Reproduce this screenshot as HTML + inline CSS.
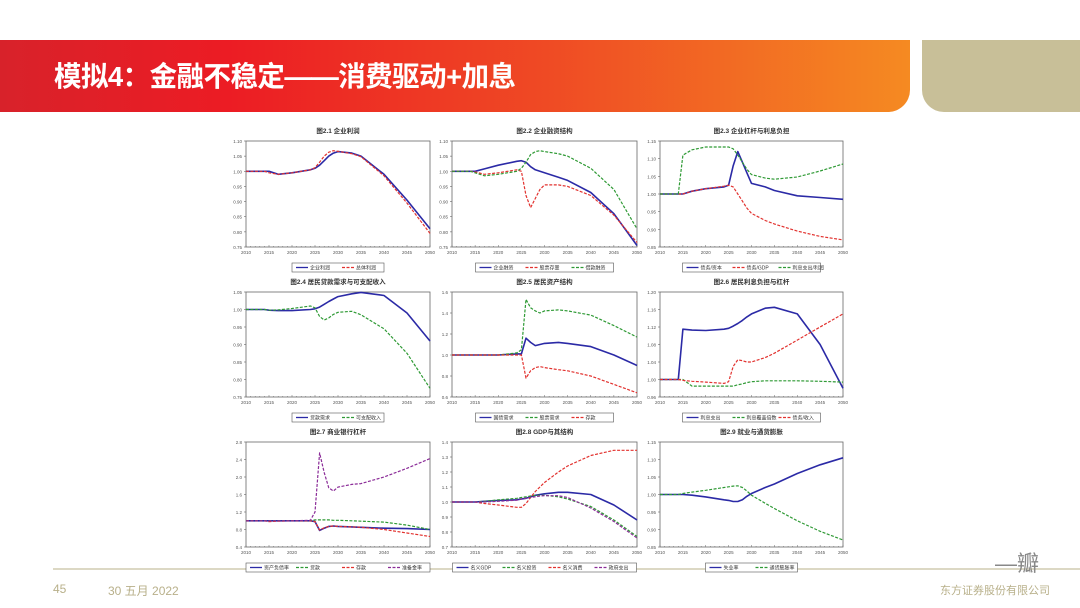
<!DOCTYPE html>
<html><head><meta charset="utf-8">
<style>
html,body{margin:0;padding:0;background:#fff;}
body{width:1080px;height:608px;position:relative;overflow:hidden;font-family:"Liberation Sans","Noto Sans CJK SC",sans-serif;}
#hdr{position:absolute;left:0;top:40px;width:910px;height:72px;background:linear-gradient(90deg,#d8222a 0%,#ec1c24 25%,#ef4a24 60%,#f58a22 100%);border-bottom-right-radius:22px;}
#beige{position:absolute;left:922px;top:40px;width:158px;height:72px;background:#c8bf98;border-bottom-left-radius:22px;}
#title{position:absolute;left:54px;top:59px;color:#fff;font-size:28px;font-weight:bold;font-family:"Liberation Sans","Noto Sans CJK SC",sans-serif;line-height:36px;white-space:nowrap;transform:scaleX(0.98);transform-origin:left center;letter-spacing:-0.5px;}
#fline{position:absolute;left:53px;top:568px;width:1027px;height:2px;background:#dcd8c4;}
.ft{position:absolute;color:#b8b08a;font-size:12px;}
svg{position:absolute;left:0;top:0;}
</style></head><body>
<div id="hdr"></div>
<div id="beige"></div>
<div id="title">模拟4：金融不稳定——消费驱动+加息</div>
<div id="fline"></div>
<div class="ft" style="left:53px;top:582px">45</div>
<div class="ft" style="left:108px;top:582px">30 五月 2022</div>
<div class="ft" style="left:940px;top:582px;font-size:11px">东方证券股份有限公司</div>
<div class="ft" style="left:995px;top:546px;font-size:22px;color:#888">—瓣</div>
<svg id="s" width="1080" height="608" xmlns="http://www.w3.org/2000/svg"></svg>
<script>
const years=[2010,2014,2015,2017,2020,2024,2025,2026,2027,2028,2029,2030,2033,2035,2040,2045,2050];
const xTicks=[2010,2015,2020,2025,2030,2035,2040,2045,2050];
const c1Title="图2.1 企业利润";
const c1Ticks=[0.75,0.80,0.85,0.90,0.95,1.00,1.05,1.10];
const c1Labels=["企业利润","总体利润"];
const c1A=[1.0,1.0,1.0,0.99,0.995,1.005,1.01,1.02,1.035,1.05,1.06,1.065,1.06,1.05,0.99,0.905,0.81];
const c1B=[1.0,1.0,0.995,0.99,0.995,1.005,1.012,1.03,1.05,1.063,1.068,1.066,1.058,1.048,0.985,0.895,0.795];
const c2Title="图2.2 企业融资结构";
const c2Ticks=[0.75,0.80,0.85,0.90,0.95,1.00,1.05,1.10];
const c2Labels=["企业融资","股票存量","借款融资"];
const c2A=[1.0,1.0,1.0,1.008,1.02,1.033,1.035,1.03,1.015,1.005,1.0,0.995,0.98,0.97,0.93,0.86,0.755];
const c2B=[1.0,1.0,0.998,0.99,0.995,1.005,1.0,0.92,0.88,0.91,0.94,0.955,0.955,0.95,0.92,0.855,0.765];
const c2C=[1.0,1.0,0.995,0.985,0.99,1.0,1.01,1.03,1.055,1.065,1.068,1.065,1.058,1.05,1.01,0.94,0.81];
const c3Title="图2.3 企业杠杆与利息负担";
const c3Ticks=[0.85,0.90,0.95,1.00,1.05,1.10,1.15];
const c3Labels=["债务/资本","债务/GDP","利息支出/利润"];
const c3A=[1.0,1.0,1.0,1.008,1.015,1.02,1.025,1.08,1.12,1.09,1.06,1.03,1.02,1.01,0.995,0.99,0.985];
const c3B=[1.0,1.0,1.0,1.008,1.015,1.022,1.025,1.02,1.0,0.98,0.96,0.945,0.925,0.915,0.895,0.88,0.87];
const c3C=[1.0,1.0,1.11,1.125,1.133,1.133,1.133,1.128,1.11,1.09,1.07,1.055,1.045,1.042,1.048,1.065,1.085];
const c4Title="图2.4 居民贷款需求与可支配收入";
const c4Ticks=[0.75,0.80,0.85,0.90,0.95,1.00,1.05];
const c4Labels=["贷款需求","可支配收入"];
const c4A=[1.0,1.0,0.998,0.997,0.997,1.0,1.002,1.007,1.015,1.023,1.03,1.037,1.045,1.049,1.04,0.99,0.91];
const c4B=[1.0,1.0,0.998,0.999,1.003,1.01,1.005,0.98,0.97,0.976,0.986,0.992,0.995,0.985,0.945,0.875,0.775];
const c5Title="图2.5 居民资产结构";
const c5Ticks=[0.6,0.8,1.0,1.2,1.4,1.6];
const c5Labels=["国债需求","股票需求","存款"];
const c5A=[1.0,1.0,1.0,1.0,1.0,1.01,1.01,1.16,1.12,1.09,1.1,1.11,1.12,1.11,1.08,1.0,0.9];
const c5B=[1.0,1.0,1.0,1.0,1.0,1.02,1.05,1.53,1.45,1.42,1.40,1.42,1.43,1.42,1.38,1.28,1.17];
const c5C=[1.0,1.0,1.0,1.0,1.0,1.0,1.0,0.78,0.85,0.88,0.89,0.88,0.86,0.85,0.8,0.72,0.64];
const c6Title="图2.6 居民利息负担与杠杆";
const c6Ticks=[0.96,1.00,1.04,1.08,1.12,1.16,1.20];
const c6Labels=["利息支出","利息覆盖倍数","债务/收入"];
const c6A=[1.0,1.0,1.115,1.113,1.112,1.115,1.117,1.122,1.128,1.135,1.143,1.15,1.163,1.165,1.15,1.08,0.98];
const c6B=[1.0,1.0,1.0,0.985,0.985,0.985,0.985,0.985,0.988,0.99,0.993,0.995,0.997,0.997,0.997,0.996,0.994];
const c6C=[1.0,1.0,0.998,0.996,0.994,0.991,0.995,1.03,1.045,1.043,1.04,1.04,1.05,1.06,1.09,1.12,1.15];
const c7Title="图2.7 商业银行杠杆";
const c7Ticks=[0.4,0.8,1.2,1.6,2.0,2.4,2.8];
const c7Labels=["资产负债率","贷款","存款","准备金率"];
const c7A=[1.0,1.0,1.0,1.0,1.0,1.0,0.98,0.78,0.83,0.87,0.88,0.87,0.86,0.85,0.83,0.82,0.80];
const c7B=[1.0,1.0,1.0,1.0,1.0,1.0,1.02,1.02,1.02,1.02,1.01,1.01,1.0,0.99,0.97,0.9,0.8];
const c7C=[1.0,1.0,0.98,0.99,1.0,1.0,0.98,0.79,0.84,0.87,0.88,0.87,0.86,0.85,0.8,0.72,0.64];
const c7D=[1.0,1.0,1.0,1.0,1.0,1.01,1.2,2.55,2.1,1.75,1.68,1.77,1.83,1.85,2.0,2.2,2.42];
const c8Title="图2.8 GDP与其结构";
const c8Ticks=[0.7,0.8,0.9,1.0,1.1,1.2,1.3,1.4];
const c8Labels=["名义GDP","名义投资","名义消费","政府支出"];
const c8A=[1.0,1.0,1.0,1.005,1.01,1.015,1.02,1.025,1.035,1.045,1.05,1.055,1.065,1.065,1.05,0.98,0.88];
const c8B=[1.0,1.0,1.0,1.005,1.015,1.025,1.03,1.035,1.04,1.045,1.045,1.045,1.035,1.02,0.97,0.88,0.77];
const c8C=[1.0,1.0,1.0,0.99,0.98,0.965,0.965,0.99,1.03,1.07,1.1,1.13,1.2,1.24,1.31,1.345,1.345];
const c8D=[1.0,1.0,1.0,1.0,1.005,1.012,1.02,1.025,1.03,1.035,1.04,1.042,1.042,1.03,0.96,0.87,0.76];
const c9Title="图2.9 就业与通货膨胀";
const c9Ticks=[0.85,0.90,0.95,1.00,1.05,1.10,1.15];
const c9Labels=["失业率","通货膨胀率"];
const c9A=[1.0,1.0,1.0,0.998,0.993,0.985,0.983,0.98,0.98,0.985,0.995,1.003,1.02,1.03,1.06,1.085,1.105];
const c9B=[1.0,1.0,1.003,1.007,1.012,1.02,1.022,1.024,1.025,1.02,1.01,0.998,0.975,0.96,0.925,0.895,0.87];

const BLUE="#2b2aa6",RED="#e2322f",GREEN="#2f9a35",PURPLE="#8b2c98";
const charts=[
 {t:c1Title,ticks:c1Ticks,dec:2,labels:c1Labels,series:[[c1A,BLUE,0],[c1B,RED,1]]},
 {t:c2Title,ticks:c2Ticks,dec:2,labels:c2Labels,series:[[c2A,BLUE,0],[c2B,RED,1],[c2C,GREEN,1]]},
 {t:c3Title,ticks:c3Ticks,dec:2,labels:c3Labels,series:[[c3A,BLUE,0],[c3B,RED,1],[c3C,GREEN,1]]},
 {t:c4Title,ticks:c4Ticks,dec:2,labels:c4Labels,series:[[c4A,BLUE,0],[c4B,GREEN,1]]},
 {t:c5Title,ticks:c5Ticks,dec:1,labels:c5Labels,series:[[c5A,BLUE,0],[c5B,GREEN,1],[c5C,RED,1]]},
 {t:c6Title,ticks:c6Ticks,dec:2,labels:c6Labels,series:[[c6A,BLUE,0],[c6B,GREEN,1],[c6C,RED,1]]},
 {t:c7Title,ticks:c7Ticks,dec:1,labels:c7Labels,series:[[c7A,BLUE,0],[c7B,GREEN,1],[c7C,RED,1],[c7D,PURPLE,1]]},
 {t:c8Title,ticks:c8Ticks,dec:1,labels:c8Labels,series:[[c8A,BLUE,0],[c8B,GREEN,1],[c8C,RED,1],[c8D,PURPLE,1]]},
 {t:c9Title,ticks:c9Ticks,dec:2,labels:c9Labels,series:[[c9A,BLUE,0],[c9B,GREEN,1]]}
];
const colX=[[246,430],[452,637],[660,843]];
const rowY=[[141,247],[292,397],[442,547]];
const NS="http://www.w3.org/2000/svg";
const svg=document.getElementById('s');
function mk(tag,attrs,parent){const e=document.createElementNS(NS,tag);for(const k in attrs)e.setAttribute(k,attrs[k]);(parent||svg).appendChild(e);return e;}
charts.forEach((c,i)=>{
 const [x0,x1]=colX[i%3],[y0,y1]=rowY[Math.floor(i/3)];
 const g=mk('g',{});
 
 
 const ymin=c.ticks[0],ymax=c.ticks[c.ticks.length-1];
 const X=v=>x0+(v-2010)/40*(x1-x0);
 const Y=v=>y1-(v-ymin)/(ymax-ymin)*(y1-y0);
 const tt=mk('text',{x:(x0+x1)/2,y:y0-8,'font-size':6.5,'font-weight':'bold','text-anchor':'middle',fill:'#333'},g);
 tt.textContent=c.t;
 
 
 const fr=mk('rect',{x:x0,y:y0,width:x1-x0,height:y1-y0,fill:'#fff',stroke:'#666','stroke-width':0.8},g);
 
 
 c.ticks.forEach(t=>{
  mk('line',{x1:x0-2,x2:x0,y1:Y(t),y2:Y(t),stroke:'#666','stroke-width':0.6},g);
  const l=mk('text',{x:x0-4,y:Y(t)+2,'font-size':4.5,'text-anchor':'end',fill:'#555'},g);
  l.textContent=t.toFixed(c.dec);
  
  
 });
 for(let yr=2010;yr<=2050;yr++){mk('line',{x1:X(yr),x2:X(yr),y1:y1,y2:y1-(yr%5?1:2),stroke:'#666','stroke-width':0.5},g);}
 xTicks.forEach(t=>{
  const l=mk('text',{x:X(t),y:y1+7,'font-size':4.5,'text-anchor':'middle',fill:'#555'},g);
  l.textContent=t;
  
  
 });
 c.series.forEach((s,k)=>{
  const pts=s[0].map((v,j)=>X(years[j]).toFixed(1)+','+Y(v).toFixed(1)).join(' ');
  const p=mk('polyline',{points:pts,fill:'none',stroke:s[1],'stroke-width':s[2]?1.2:1.6,'stroke-dasharray':s[2]?'3,1.5':'none','stroke-linejoin':'round'},g);
  
  
 });
 const n=c.labels.length, w=n*46, lx=(x0+x1)/2-w/2, ly=y1+16;
 const lb=mk('rect',{x:lx,y:ly,width:w,height:9,fill:'#fff',stroke:'#555','stroke-width':0.6},g);
 
 
 c.labels.forEach((lab,k)=>{
  const s=c.series[k],ex=lx+4+k*46;
  mk('line',{x1:ex,x2:ex+12,y1:ly+4.5,y2:ly+4.5,stroke:s[1],'stroke-width':1.3,'stroke-dasharray':s[2]?'3,1.5':'none'},g);
  const t=mk('text',{x:ex+14,y:ly+6.5,'font-size':5,fill:'#333'},g);
  t.textContent=lab;
  
  
 });
});
</script>
</body></html>
